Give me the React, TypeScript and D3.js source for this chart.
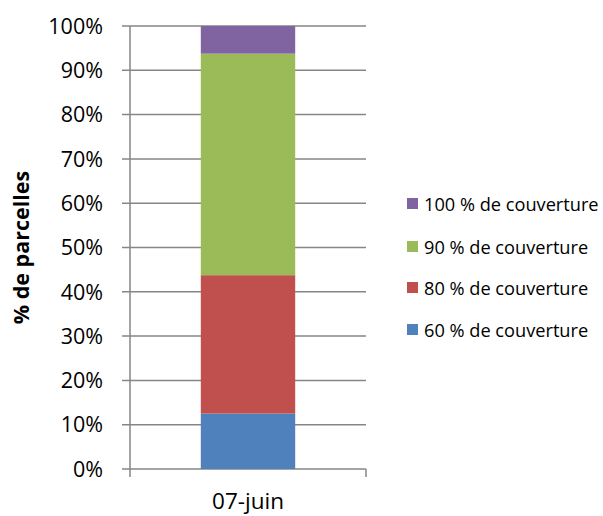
import React from "react";
import * as d3 from "d3";

const categories = ["07-juin"];
const seriesNames = ["60 % de couverture", "80 % de couverture", "90 % de couverture", "100 % de couverture"];
const seriesValues = [[12.5], [31.25], [50], [6.25]];
const seriesColors = ["#4F81BD", "#C0504D", "#9BBB59", "#8064A2"];
const yTicks = [0, 10, 20, 30, 40, 50, 60, 70, 80, 90, 100];

const W = 603, H = 516;
const M = { left: 130, right: 366, top: 26, bottom: 469 };
const FONT = "'Open Sans', 'Liberation Sans', Arial, sans-serif";

export default function App() {
  const y = d3.scaleLinear().domain([0, 100]).range([M.bottom, M.top]);
  const x = d3.scaleBand().domain(categories).range([M.left, M.right]).paddingInner(0.6).paddingOuter(0.3);

  const table = categories.map((c, i) => {
    const row: any = { cat: c };
    seriesNames.forEach((s, j) => (row[s] = seriesValues[j][i]));
    return row;
  });
  const stacked = d3.stack().keys(seriesNames)(table);

  const legendY = [330, 288, 247, 204];

  return (
    <svg width={W} height={H} style={{ position: "absolute", left: 0, top: 0, background: "#fff" }}>
      {yTicks.map((t) => (
        <g key={t}>
          <line x1={M.left - 8} x2={M.right} y1={y(t)} y2={y(t)} stroke="#868686" strokeWidth={1.5} />
          <text x={103} y={y(t)} dy="0.36em" textAnchor="end" fontFamily={FONT} fontSize={21.5} fill="#000">
            {t}%
          </text>
        </g>
      ))}
      {stacked.map((layer, j) =>
        layer.map((d, i) => (
          <rect
            key={j + "-" + i}
            x={x(categories[i])!}
            width={x.bandwidth()}
            y={y(d[1])}
            height={y(d[0]) - y(d[1])}
            fill={seriesColors[j]}
          />
        ))
      )}
      <line x1={M.left} x2={M.left} y1={M.top} y2={M.bottom + 8} stroke="#868686" strokeWidth={1.5} />
      <line x1={M.right} x2={M.right} y1={M.bottom} y2={M.bottom + 8} stroke="#868686" strokeWidth={1.5} />
      {categories.map((c) => (
        <text key={c} x={x(c)! + x.bandwidth() / 2} y={509} textAnchor="middle" fontFamily={FONT} fontSize={22.5} fill="#000">
          {c}
        </text>
      ))}
      <text
        transform={`translate(29,${(M.top + M.bottom) / 2}) rotate(-90)`}
        textAnchor="middle"
        fontFamily={FONT}
        fontSize={21.5}
        fontWeight="bold"
        fill="#000"
      >
        % de parcelles
      </text>
      {seriesNames.map((s, j) => (
        <g key={s}>
          <rect x={407} y={legendY[j] - 6} width={11} height={11} fill={seriesColors[j]} />
          <text x={424} y={legendY[j]} dy="0.36em" fontFamily={FONT} fontSize={18.2} fill="#000">
            {s}
          </text>
        </g>
      ))}
    </svg>
  );
}
